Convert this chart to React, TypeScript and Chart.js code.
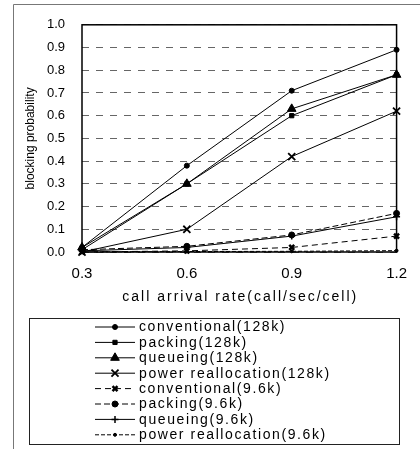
import React, { useEffect, useRef } from "react";
import { Chart, registerables } from "chart.js";
import { drawPoint } from "chart.js/helpers";

Chart.register(...registerables);

const categories = ["0.3", "0.6", "0.9", "1.2"];
const yTicks = [0, 0.1, 0.2, 0.3, 0.4, 0.5, 0.6, 0.7, 0.8, 0.9, 1.0];

const conventional128 = [0.02, 0.38, 0.71, 0.89];
const packing128 = [0.01, 0.3, 0.6, 0.78];
const queueing128 = [0.02, 0.3, 0.63, 0.78];
const powerRealloc128 = [0.0, 0.1, 0.42, 0.62];
const conventional96 = [0.0, 0.005, 0.02, 0.07];
const packing96 = [0.01, 0.025, 0.075, 0.17];
const queueing96 = [0.005, 0.02, 0.07, 0.155];
const powerRealloc96 = [0.0, 0.002, 0.003, 0.006];

const seriesLabels = [
  "conventional(128k)",
  "packing(128k)",
  "queueing(128k)",
  "power reallocation(128k)",
  "conventional(9.6k)",
  "packing(9.6k)",
  "queueing(9.6k)",
  "power reallocation(9.6k)",
];

const xTitle = "call arrival rate(call/sec/cell)";
const yTitle = "blocking probability";

const FONT = "'Liberation Sans', Arial, sans-serif";

const framePlugin = {
  id: "framePlugin",
  beforeDraw(chart: any) {
    const ctx = chart.ctx;
    ctx.save();
    ctx.strokeStyle = "#777";
    ctx.lineWidth = 1;
    ctx.beginPath();
    ctx.moveTo(13.5, 449);
    ctx.lineTo(13.5, 4.5);
    ctx.lineTo(420, 4.5);
    ctx.stroke();
    ctx.restore();
  },
  beforeDatasetsDraw(chart: any) {
    const { ctx, chartArea: a } = chart;
    ctx.save();
    ctx.strokeStyle = "#000";
    ctx.lineWidth = 1.5;
    ctx.strokeRect(a.left, a.top, a.right - a.left, a.bottom - a.top);
    ctx.restore();
  },
  afterDraw(chart: any) {
    const { ctx, chartArea: a } = chart;
    ctx.save();
    // x axis title
    ctx.fillStyle = "#000";
    ctx.font = `14px ${FONT}`;
    (ctx as any).letterSpacing = "2px";
    ctx.textAlign = "center";
    ctx.textBaseline = "middle";
    ctx.fillText(xTitle, (a.left + a.right) / 2 + 1, 297);

    // legend box
    ctx.strokeStyle = "#222";
    ctx.lineWidth = 1;
    ctx.strokeRect(29.5, 318.5, 370, 126);
    ctx.textAlign = "left";
    (ctx as any).letterSpacing = "1.6px";
    chart.data.datasets.forEach((ds: any, i: number) => {
      const y = 327 + i * 15.4;
      ctx.save();
      ctx.strokeStyle = "#000";
      ctx.lineWidth = 1;
      ctx.setLineDash(ds.borderDash || []);
      ctx.beginPath();
      ctx.moveTo(95, y);
      ctx.lineTo(135, y);
      ctx.stroke();
      ctx.setLineDash([]);
      ctx.fillStyle = "#000";
      ctx.strokeStyle = "#000";
      ctx.lineWidth = ds.pointBorderWidth;
      drawPoint(
        ctx,
        {
          pointStyle: ds.pointStyle,
          rotation: 0,
          radius: ds.pointRadius,
          borderWidth: ds.pointBorderWidth,
        },
        115,
        y
      );
      ctx.restore();
      ctx.fillStyle = "#000";
      ctx.fillText(ds.label, 139, y + 0.5);
    });
    ctx.restore();
  },
};

export default function App() {
  const ref = useRef<HTMLCanvasElement>(null);
  useEffect(() => {
    if (!ref.current) return;
    const mk = (
      label: string,
      data: number[],
      pointStyle: string,
      pointRadius: number,
      pointBorderWidth: number,
      borderDash: number[]
    ) => ({
      label,
      data,
      pointStyle,
      pointRadius,
      pointBorderWidth,
      borderDash,
      borderColor: "#000",
      backgroundColor: "#000",
      pointBackgroundColor: "#000",
      pointBorderColor: "#000",
      borderWidth: 1,
      tension: 0,
      clip: false as any,
    });
    const chart = new Chart(ref.current, {
      type: "line",
      data: {
        labels: categories,
        datasets: [
          mk(seriesLabels[0], conventional128, "circle", 2.5, 1, []),
          mk(seriesLabels[1], packing128, "rect", 3, 1, []),
          mk(seriesLabels[2], queueing128, "triangle", 5, 1, []),
          mk(seriesLabels[3], powerRealloc128, "crossRot", 5, 1.8, []),
          mk(seriesLabels[4], conventional96, "crossRot", 3.5, 2.5, [6, 4]),
          mk(seriesLabels[5], packing96, "circle", 3, 1, [6, 3]),
          mk(seriesLabels[6], queueing96, "cross", 3.5, 1.5, []),
          mk(seriesLabels[7], powerRealloc96, "circle", 1.5, 1, [4, 2]),
        ] as any,
      },
      options: {
        responsive: false,
        animation: false,
        devicePixelRatio: 1,
        layout: { padding: { left: 0, top: 17, right: 15, bottom: 157 } },
        plugins: {
          legend: { display: false },
          tooltip: { enabled: false },
        },
        scales: {
          x: {
            type: "category",
            offset: false,
            grid: { display: false, drawTicks: false },
            border: { display: false },
            ticks: {
              color: "#000",
              font: { family: FONT, size: 15 },
              padding: 13,
              maxRotation: 0,
            },
            afterFit: (s: any) => {
              s.height = 40;
            },
          },
          y: {
            type: "linear",
            min: 0,
            max: 1,
            afterBuildTicks: (s: any) => {
              s.ticks = yTicks.map((v) => ({ value: v }));
            },
            grid: { color: "#666", lineWidth: 1, drawTicks: false },
            border: { display: false, dash: [7, 7] },
            ticks: {
              color: "#000",
              font: { family: FONT, size: 13 },
              padding: 17,
              callback: (v: any) => Number(v).toFixed(1),
            },
            title: {
              display: true,
              text: yTitle,
              color: "#000",
              font: { family: FONT, size: 12 },
              padding: { top: 23, bottom: 0 },
            },
            afterFit: (s: any) => {
              s.width = 82;
            },
          },
        },
      },
      plugins: [framePlugin],
    });
    return () => chart.destroy();
  }, []);
  return (
    <div style={{ position: "fixed", left: 0, top: 0, width: 420, height: 449, background: "#fff" }}>
      <canvas ref={ref} width={420} height={449} style={{ display: "block" }} />
    </div>
  );
}
